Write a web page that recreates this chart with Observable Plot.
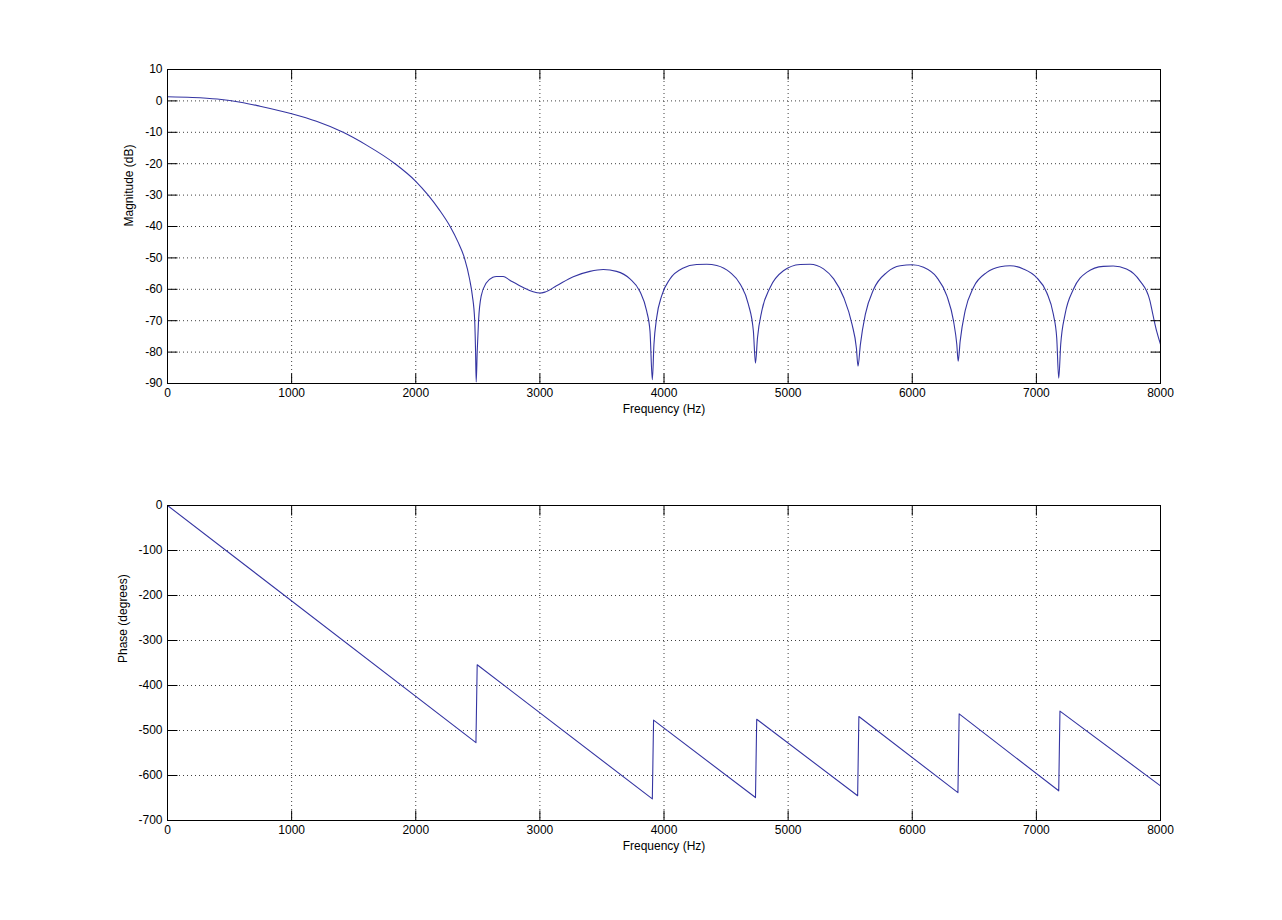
<!DOCTYPE html>
<html>
<head>
<meta charset="utf-8">
<script src="https://cdn.jsdelivr.net/npm/d3@7"></script>
<script src="https://cdn.jsdelivr.net/npm/@observablehq/plot@0.6"></script>
<style>
  html, body { margin: 0; padding: 0; background: #fff; }
  #chart svg { display: block; }
</style>
</head>
<body>
<div id="chart"></div>
<script>
// ---- Data ----
const magFreq = [0, 200, 400, 600, 745, 1000, 1200, 1415, 1600, 1833, 2000, 2100, 2190, 2277, 2340, 2392, 2434, 2456, 2475, 2482, 2487, 2495, 2506, 2528, 2568, 2621, 2650, 2704, 2758, 2866, 2946, 3000, 3040, 3134, 3269, 3403, 3511, 3618, 3726, 3806, 3860, 3887, 3906, 3919, 3941, 3981, 4048, 4156, 4263, 4344, 4425, 4532, 4613, 4680, 4720, 4737, 4753, 4788, 4855, 4962, 5097, 5177, 5285, 5367, 5448, 5515, 5550, 5563, 5582, 5622, 5689, 5796, 5903, 6000, 6091, 6198, 6279, 6332, 6359, 6370, 6386, 6426, 6493, 6601, 6708, 6788, 6895, 7000, 7083, 7137, 7164, 7180, 7196, 7231, 7298, 7405, 7539, 7619, 7726, 7834, 7914, 7941, 7970, 8000];
const magDb = [1.3, 1.1, 0.6, -0.5, -1.7, -4.1, -6.5, -10, -14, -20, -25.6, -30, -34.7, -40, -44.9, -50, -56.8, -62, -70, -80, -89.5, -80, -70, -62, -58, -56.2, -55.9, -55.9, -57.1, -59.4, -60.8, -61.2, -60.9, -58.9, -56, -54.3, -53.7, -54.3, -56.7, -60.7, -66.9, -73.3, -88.8, -77.6, -69, -62.1, -56.7, -53.2, -52.1, -52, -52.4, -54.6, -58.3, -64.8, -73.3, -83.5, -75.5, -66.9, -59.4, -54.1, -52.1, -52, -53.5, -56.7, -62.6, -71.2, -78.7, -84.5, -77.6, -68, -60, -54.6, -52.5, -52.2, -53, -56.2, -62.1, -70, -77.6, -82.9, -76.5, -66.9, -59.4, -54.6, -52.8, -52.5, -53.5, -56.2, -61, -68, -75.5, -88.3, -77.6, -68, -60, -54.6, -52.7, -52.6, -53.5, -57.3, -63.5, -68.5, -73.5, -77.5];

const phaseFreq = [0, 2485, 2495, 3906, 3916, 4737, 4747, 5560, 5570, 6368, 6378, 7180, 7190, 8000];
const phaseDeg  = [0, -527, -354, -652, -477, -649, -475, -645, -469, -638, -463, -634, -457, -623];

const xTicks = [0, 1000, 2000, 3000, 4000, 5000, 6000, 7000, 8000];
const magTicks = [-90, -80, -70, -60, -50, -40, -30, -20, -10, 0, 10];
const phaseTicks = [-700, -600, -500, -400, -300, -200, -100, 0];

const magData = magFreq.map((f, i) => ({f, v: magDb[i]}));
const phaseData = phaseFreq.map((f, i) => ({f, v: phaseDeg[i]}));

const FONT = "'Liberation Sans', Arial, sans-serif";
const LINE = "#3535a2";
// plain line segment shape for inward tick marks
const tickShape = {draw(context, l) { context.moveTo(0, 0); context.lineTo(0, -l); }};

function panel({data, yDomain, yTicks, yLabel, yLabelDx, marginTop, marginBottom, curve}) {
  const [y0, y1] = yDomain;
  const tickOpts = {length: 10, anchor: "middle", shape: tickShape, stroke: "#000", strokeWidth: 1, strokeLinecap: "butt"};
  return Plot.plot({
    width: 1282,
    height: 460,
    marginLeft: 167,
    marginRight: 122,
    marginTop,
    marginBottom,
    style: {fontFamily: FONT, fontSize: "12px", color: "#000", background: "#fff"},
    x: {domain: [0, 8000], axis: null},
    y: {domain: yDomain, axis: null},
    marks: [
      Plot.gridX(xTicks, {stroke: "#000", strokeOpacity: 0.75, strokeDasharray: "1,3"}),
      Plot.gridY(yTicks, {stroke: "#000", strokeOpacity: 0.75, strokeDasharray: "1,3"}),
      Plot.line(data, {x: "f", y: "v", stroke: LINE, strokeWidth: 1.1, curve}),
      Plot.frame({stroke: "#000", strokeWidth: 1}),
      // inward ticks on all four sides (centred vectors shifted half a length inward)
      Plot.vector(xTicks, {x: d => d, y: () => y0, rotate: 0, dy: -5, ...tickOpts}),
      Plot.vector(xTicks, {x: d => d, y: () => y1, rotate: 0, dy: 5, ...tickOpts}),
      Plot.vector(yTicks, {x: () => 0, y: d => d, rotate: 90, dx: 5, ...tickOpts}),
      Plot.vector(yTicks, {x: () => 8000, y: d => d, rotate: 90, dx: -5, ...tickOpts}),
      // tick labels
      Plot.axisX(xTicks, {anchor: "bottom", tickSize: 0, tickPadding: 5, tickFormat: d => String(d), label: null, fontSize: 12}),
      Plot.axisY(yTicks, {anchor: "left", tickSize: 0, tickPadding: 5, tickFormat: d => String(d), label: null, fontSize: 12}),
      // axis titles
      Plot.text(["Frequency (Hz)"], {frameAnchor: "bottom", dy: 29, text: d => d, fontSize: 12, fill: "#000"}),
      Plot.text([yLabel], {frameAnchor: "left", dx: yLabelDx, rotate: -90, text: d => d, fontSize: 12, fill: "#000"})
    ]
  });
}

const magPanel = panel({data: magData, yDomain: [-90, 10], yTicks: magTicks, yLabel: "Magnitude (dB)", yLabelDx: -38, marginTop: 69, marginBottom: 77, curve: "monotone-x"});
const phasePanel = panel({data: phaseData, yDomain: [-700, 0], yTicks: phaseTicks, yLabel: "Phase (degrees)", yLabelDx: -44, marginTop: 45, marginBottom: 100, curve: "linear"});

const chart = document.getElementById("chart");
chart.appendChild(magPanel);
chart.appendChild(phasePanel);
</script>
</body>
</html>
